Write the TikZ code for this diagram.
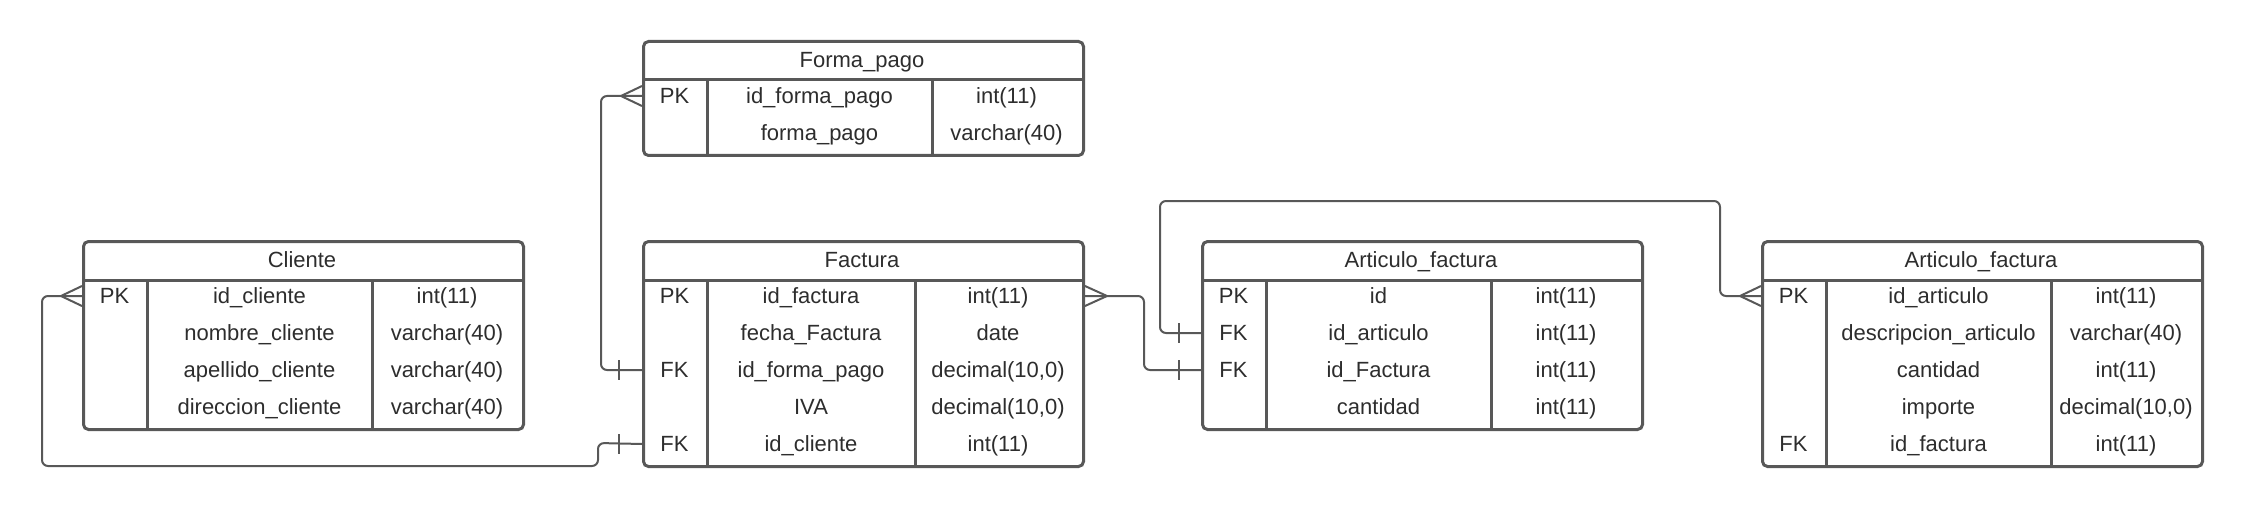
\documentclass[tikz,border=0pt]{standalone}
\usepackage{fontspec}
\setmainfont{Liberation Sans}
\definecolor{linegray}{RGB}{88,88,88}
\definecolor{txtgray}{RGB}{45,45,45}

\begin{document}
\begin{tikzpicture}[x=1pt, y=-1pt, every node/.style = {font=\fontsize{22}{26}\selectfont, text=txtgray, inner sep=0pt, text height=15.8pt, text depth=0pt}]
	\tikzstyle{tbl} = [draw=linegray, line width=3pt, rounded corners=5pt, anchor=north west, minimum width=440pt]
	\tikzstyle{divline} = [draw=linegray, line width=3pt]
	\tikzstyle{conn} = [draw=linegray, line width=2pt, rounded corners=6pt]
	\tikzstyle{foot} = [draw=linegray, line width=2pt]
	\useasboundingbox (0,0) rectangle (2241,508);
	% Cliente
	\node[tbl, minimum height=188pt] (cli) at (82,240) {};
	\node (cli-h) at (302,260) {Cliente};
	\draw[divline] (82,280) -- (522,280) (147,280) -- (147,428) (372,280) -- (372,428);
	\foreach \k/\n/\t [count=\i] in {PK/id\_cliente/int(11), {}/nombre\_cliente/varchar(40), {}/apellido\_cliente/varchar(40), {}/direccion\_cliente/varchar(40)} {
		\node (cli-k\i) at (114.5,{259+37*\i}) {\k};
		\node (cli-n\i) at (259.5,{259+37*\i}) {\n};
		\node (cli-t\i) at (447,{259+37*\i}) {\t};
	}
	% Forma_pago
	\node[tbl, minimum height=114pt] (fpago) at (642,40) {};
	\node (fpago-h) at (862,60) {Forma\_pago};
	\draw[divline] (642,80) -- (1082,80) (707,80) -- (707,154) (932,80) -- (932,154);
	\foreach \k/\n/\t [count=\i] in {PK/id\_forma\_pago/int(11), {}/forma\_pago/varchar(40)} {
		\node (fpago-k\i) at (674.5,{59+37*\i}) {\k};
		\node (fpago-n\i) at (819.5,{59+37*\i}) {\n};
		\node (fpago-t\i) at (1006.5,{59+37*\i}) {\t};
	}
	% Factura
	\node[tbl, minimum height=225pt] (fac) at (642,240) {};
	\node (fac-h) at (862,260) {Factura};
	\draw[divline] (642,280) -- (1082,280) (707,280) -- (707,465) (915,280) -- (915,465);
	\foreach \k/\n/\t [count=\i] in {PK/id\_factura/int(11), {}/fecha\_Factura/date, FK/id\_forma\_pago/decimal(10{,}0), {}/IVA/decimal(10{,}0), FK/id\_cliente/int(11)} {
		\node (fac-k\i) at (674.5,{259+37*\i}) {\k};
		\node (fac-n\i) at (811,{259+37*\i}) {\n};
		\node (fac-t\i) at (998,{259+37*\i}) {\t};
	}
	% Articulo_factura (middle)
	\node[tbl, minimum height=188pt] (artfac) at (1201,240) {};
	\node (artfac-h) at (1421,260) {Articulo\_factura};
	\draw[divline] (1201,280) -- (1641,280) (1266,280) -- (1266,428) (1491,280) -- (1491,428);
	\foreach \k/\n/\t [count=\i] in {PK/id/int(11), FK/id\_articulo/int(11), FK/id\_Factura/int(11), {}/cantidad/int(11)} {
		\node (artfac-k\i) at (1233.5,{259+37*\i}) {\k};
		\node (artfac-n\i) at (1378.5,{259+37*\i}) {\n};
		\node (artfac-t\i) at (1566,{259+37*\i}) {\t};
	}
	% Articulo_factura (right)
	\node[tbl, minimum height=225pt] (art) at (1761,240) {};
	\node (art-h) at (1981,260) {Articulo\_factura};
	\draw[divline] (1761,280) -- (2201,280) (1826,280) -- (1826,465) (2051,280) -- (2051,465);
	\foreach \k/\n/\t [count=\i] in {PK/id\_articulo/int(11), {}/descripcion\_articulo/varchar(40), {}/cantidad/int(11), {}/importe/decimal(10{,}0), FK/id\_factura/int(11)} {
		\node (art-k\i) at (1793.5,{259+37*\i}) {\k};
		\node (art-n\i) at (1938.5,{259+37*\i}) {\n};
		\node (art-t\i) at (2126,{259+37*\i}) {\t};
	}
	% relations
	\draw[conn] (cli.west |- cli-k1) -- ++(-40,0) -- ++(0,170) -- ++(556,0) -- ++(0,-23) -- (fac.west |- fac-k5);
	\draw[foot] (cli.west |- cli-k1) ++(-21,0) -- ++(21,-10) ++(-21,10) -- ++(21,10);
	\draw[foot] (fac.west |- fac-k5) ++(-23,-10) -- ++(0,20);
	\draw[conn] (fpago.west |- fpago-k1) -- ++(-41,0) -- ++(0,274) -- (fac.west |- fac-k3);
	\draw[foot] (fpago.west |- fpago-k1) ++(-21,0) -- ++(21,-10) ++(-21,10) -- ++(21,10);
	\draw[foot] (fac.west |- fac-k3) ++(-23,-10) -- ++(0,20);
	\draw[conn] (fac.east |- fac-k1) -- ++(59,0) -- ++(0,74) -- (artfac.west |- artfac-k3);
	\draw[foot] (fac.east |- fac-k1) ++(22,0) -- ++(-22,-10) ++(22,10) -- ++(-22,10);
	\draw[foot] (artfac.west |- artfac-k3) ++(-22,-10) -- ++(0,20);
	\draw[conn] (artfac.west |- artfac-k2) -- ++(-41,0) -- ++(0,-132) -- ++(560,0) -- ++(0,95) -- (art.west |- art-k1);
	\draw[foot] (artfac.west |- artfac-k2) ++(-22,-10) -- ++(0,20);
	\draw[foot] (art.west |- art-k1) ++(-21,0) -- ++(21,-10) ++(-21,10) -- ++(21,10);
\end{tikzpicture}
\end{document}
